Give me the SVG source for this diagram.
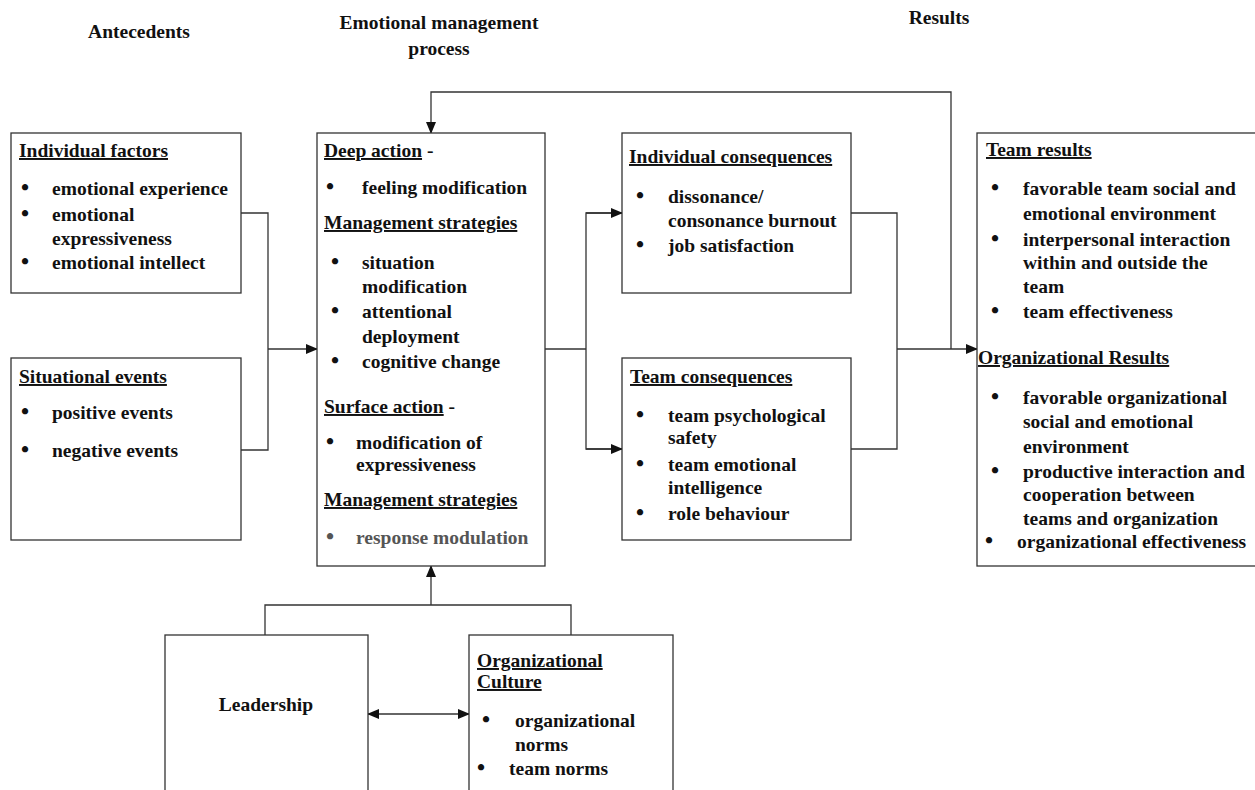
<svg xmlns="http://www.w3.org/2000/svg" width="1255" height="790" viewBox="0 0 1255 790">
<defs>
<marker id="ah" markerWidth="12" markerHeight="10" refX="11" refY="5" orient="auto" markerUnits="userSpaceOnUse">
<path d="M0,0 L12,5 L0,10 Z" fill="#111"/>
</marker>
<marker id="ahs" markerWidth="12" markerHeight="10" refX="1" refY="5" orient="auto" markerUnits="userSpaceOnUse">
<path d="M12,0 L0,5 L12,10 Z" fill="#111"/>
</marker>
<style>
text{font-family:"Liberation Serif","Times New Roman",serif;font-weight:bold;font-size:19.5px;fill:#111}
.h{text-decoration:underline}
.b{text-anchor:middle;font-size:23px}
.g{fill:#555}
rect{fill:#fff;stroke:#333;stroke-width:1.3}
.c{fill:none;stroke:#333;stroke-width:1.3}
</style>
</defs>
<rect x="0" y="0" width="1255" height="790" style="fill:#fff;stroke:none"/>

<g id="titles">
<text x="139" y="38" text-anchor="middle">Antecedents</text>
<text x="439" y="29" text-anchor="middle">Emotional management</text>
<text x="439" y="55" text-anchor="middle">process</text>
<text x="939" y="24" text-anchor="middle">Results</text>
</g>

<g id="connectors">
<polyline class="c" points="241,213 268,213 268,450 241,450"/>
<line class="c" x1="268" y1="349" x2="317" y2="349" marker-end="url(#ah)"/>
<line class="c" x1="545" y1="349" x2="586" y2="349"/>
<polyline class="c" points="622,213 586,213 586,449 622,449"/>
<line class="c" x1="586" y1="213" x2="622" y2="213" marker-end="url(#ah)"/>
<line class="c" x1="586" y1="449" x2="622" y2="449" marker-end="url(#ah)"/>
<polyline class="c" points="851,213 897,213 897,449 851,449"/>
<line class="c" x1="897" y1="349" x2="977" y2="349" marker-end="url(#ah)"/>
<polyline class="c" points="951,349 951,92 431,92 431,133" marker-end="url(#ah)"/>
<polyline class="c" points="265,635 265,605 571,605 571,635"/>
<line class="c" x1="431" y1="605" x2="431" y2="566" marker-end="url(#ah)"/>
<line class="c" x1="368" y1="714" x2="469" y2="714" marker-start="url(#ahs)" marker-end="url(#ah)"/>
</g>

<g id="individual-factors">
<rect x="11" y="133" width="230" height="160"/>
<text x="19" y="157" class="h">Individual factors</text>
<text x="25" y="195" class="b">•</text><text x="52" y="195">emotional experience</text>
<text x="25" y="221" class="b">•</text><text x="52" y="221">emotional</text>
<text x="52" y="245">expressiveness</text>
<text x="25" y="269" class="b">•</text><text x="52" y="269">emotional intellect</text>
</g>

<g id="situational-events">
<rect x="11" y="358" width="230" height="182"/>
<text x="19" y="383" class="h">Situational events</text>
<text x="25" y="419" class="b">•</text><text x="52" y="419">positive events</text>
<text x="25" y="457" class="b">•</text><text x="52" y="457">negative events</text>
</g>

<g id="emotional-management">
<rect x="317" y="133" width="228" height="433"/>
<text x="324" y="157"><tspan class="h">Deep action</tspan> -</text>
<text x="330" y="194" class="b">•</text><text x="362" y="194">feeling modification</text>
<text x="324" y="229" class="h">Management strategies</text>
<text x="335" y="269" class="b">•</text><text x="362" y="269">situation</text>
<text x="362" y="293">modification</text>
<text x="335" y="318" class="b">•</text><text x="362" y="318">attentional</text>
<text x="362" y="343">deployment</text>
<text x="335" y="368" class="b">•</text><text x="362" y="368">cognitive change</text>
<text x="324" y="413"><tspan class="h">Surface action</tspan> -</text>
<text x="330" y="449" class="b">•</text><text x="356" y="449">modification of</text>
<text x="356" y="471">expressiveness</text>
<text x="324" y="506" class="h">Management strategies</text>
<text x="330" y="544" class="b g">•</text><text x="356" y="544" class="g">response modulation</text>
</g>

<g id="individual-consequences">
<rect x="622" y="133" width="229" height="160"/>
<text x="629" y="163" class="h">Individual consequences</text>
<text x="640" y="203" class="b">•</text><text x="668" y="203">dissonance/</text>
<text x="668" y="227">consonance burnout</text>
<text x="640" y="252" class="b">•</text><text x="668" y="252">job satisfaction</text>
</g>

<g id="team-consequences">
<rect x="622" y="358" width="229" height="182"/>
<text x="630" y="383" class="h">Team consequences</text>
<text x="640" y="422" class="b">•</text><text x="668" y="422">team psychological</text>
<text x="668" y="444">safety</text>
<text x="640" y="471" class="b">•</text><text x="668" y="471">team emotional</text>
<text x="668" y="494">intelligence</text>
<text x="640" y="520" class="b">•</text><text x="668" y="520">role behaviour</text>
</g>

<g id="results">
<rect x="977" y="133" width="290" height="433"/>
<text x="986" y="156" class="h">Team results</text>
<text x="995" y="195" class="b">•</text><text x="1023" y="195">favorable team social and</text>
<text x="1023" y="220">emotional environment</text>
<text x="995" y="246" class="b">•</text><text x="1023" y="246">interpersonal interaction</text>
<text x="1023" y="269">within and outside the</text>
<text x="1023" y="293">team</text>
<text x="995" y="318" class="b">•</text><text x="1023" y="318">team effectiveness</text>
<text x="978" y="364" class="h">Organizational Results</text>
<text x="995" y="404" class="b">•</text><text x="1023" y="404">favorable organizational</text>
<text x="1023" y="428">social and emotional</text>
<text x="1023" y="453">environment</text>
<text x="995" y="478" class="b">•</text><text x="1023" y="478">productive interaction and</text>
<text x="1023" y="501">cooperation between</text>
<text x="1023" y="525">teams and organization</text>
<text x="989" y="548" class="b">•</text><text x="1017" y="548">organizational effectiveness</text>
</g>

<g id="leadership">
<rect x="165" y="635" width="203" height="170"/>
<text x="266" y="711" text-anchor="middle">Leadership</text>
</g>

<g id="organizational-culture">
<rect x="469" y="635" width="204" height="170"/>
<text x="477" y="667" class="h">Organizational</text>
<text x="477" y="688" class="h">Culture</text>
<text x="486" y="727" class="b">•</text><text x="515" y="727">organizational</text>
<text x="515" y="751">norms</text>
<text x="481" y="775" class="b">•</text><text x="509" y="775">team norms</text>
</g>
</svg>
